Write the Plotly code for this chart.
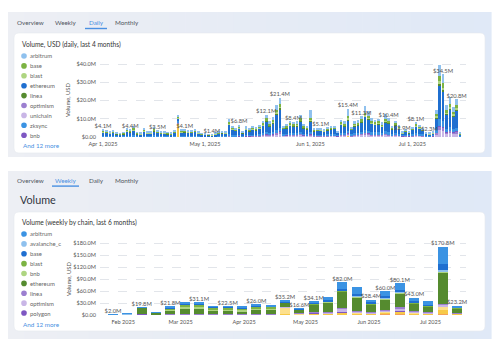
import plotly.graph_objects as go
import numpy as np
import pandas as pd

W, H = 500, 347
FONT = "Lato"
DAY_MS = 86400000

def px(x):
    return x / W

def py(y):
    return 1 - y / H

# ---------------- DAILY (USD millions), 2025-04-01 .. 2025-07-15 ----------------
daily_dates = pd.date_range("2025-04-01", "2025-07-15", freq="D")

daily_arbitrum = [0.6,0.5,0.4,0.5,0.3,0.3,0.4,0.8,0.7,1.0,0.4,0.3,0.7,0.4,0.5,0.8,0.5,0.4,0.5,0.4,0.3,0.5,1.2,0.6,0.6,0.5,0.5,0.6,0.4,0.3,
                  0.3,0.2,0.2,0.4,0.4,0.5,0.4,1.5,0.9,0.8,1.0,0.5,0.9,0.7,0.9,0.8,1.0,1.4,1.8,1.3,1.6,2.6,3.2,0.9,1.1,1.3,1.3,1.3,1.8,1.1,0.9,
                  4.5,0.7,0.8,0.8,0.6,0.8,0.9,0.9,0.5,1.4,1.3,4.0,0.8,1.3,1.4,1.7,3.5,2.5,1.5,1.4,1.5,1.2,2.5,1.6,0.9,1.4,1.0,0.5,0.6,0.5,
                  0.8,1.2,1.0,0.8,0.4,0.4,0.5,2.5,6.0,5.0,3.0,4.0,3.0,3.5,0.4]
daily_base = [0.5,0.4,0.3,0.4,0.3,0.2,0.3,0.8,0.6,0.9,0.3,0.3,0.5,0.3,0.4,0.8,0.4,0.3,0.4,0.3,0.3,0.4,0.5,0.5,0.5,0.4,0.4,0.5,0.3,0.2,
              0.2,0.2,0.1,0.3,0.3,0.3,0.3,0.8,0.6,0.5,0.7,0.3,0.5,0.4,0.6,0.5,0.6,0.8,1.0,0.7,0.9,1.4,1.6,0.5,0.6,0.7,0.7,0.7,1.0,0.6,0.5,
              0.9,0.4,0.4,0.4,0.3,0.4,0.5,0.5,0.3,0.8,0.7,1.2,0.5,0.7,0.8,0.9,1.3,1.1,0.8,0.8,0.8,0.6,1.0,0.8,0.5,0.7,0.5,0.2,0.3,0.2,
              0.4,0.6,0.5,0.4,0.2,0.2,0.3,1.2,3.0,2.5,1.3,1.6,1.2,1.5,0.2]
daily_blast = [0.3,0.2,0.2,0.2,0.1,0.1,0.2,0.4,0.3,0.5,0.2,0.1,0.3,0.2,0.2,0.4,0.2,0.2,0.2,0.2,0.1,0.2,0.3,0.2,0.2,0.2,0.2,0.2,0.2,0.1,
               0.1,0.1,0.1,0.1,0.1,0.2,0.2,0.4,0.3,0.2,0.3,0.2,0.3,0.2,0.3,0.2,0.3,0.4,0.5,0.3,0.4,0.6,0.7,0.2,0.3,0.3,0.3,0.3,0.4,0.3,0.2,
               0.4,0.2,0.2,0.2,0.2,0.2,0.2,0.2,0.1,0.3,0.3,0.5,0.2,0.3,0.3,0.4,0.5,0.4,0.3,0.3,0.3,0.3,0.4,0.3,0.2,0.3,0.2,0.1,0.1,0.1,
               0.2,0.3,0.2,0.2,0.1,0.1,0.1,0.5,1.2,1.0,0.5,0.6,0.5,0.6,0.1]
daily_ethereum = [1.9,1.7,1.4,1.6,1.0,0.8,1.0,2.0,2.0,2.4,1.0,1.0,2.2,1.4,1.4,2.3,1.6,1.2,1.4,1.0,0.9,1.6,1.5,1.9,2.0,1.8,1.6,2.1,1.4,0.8,
                  0.6,0.5,0.5,1.0,1.3,1.5,1.4,5.1,2.9,2.3,3.3,1.4,2.7,2.1,2.7,2.5,2.9,4.0,5.6,3.8,4.9,8.3,10.1,2.8,3.0,3.9,3.6,3.7,5.4,3.0,2.6,
                  5.8,1.9,2.1,2.2,1.9,2.4,2.6,2.8,1.3,4.2,3.8,5.7,2.4,3.8,4.0,5.1,7.0,6.1,4.7,4.2,4.5,3.6,5.1,4.8,2.6,3.9,2.9,1.1,1.8,1.2,
                  2.5,3.7,3.0,2.0,1.0,0.8,1.1,6.4,18.1,16.3,7.7,9.7,7.2,9.4,0.8]
daily_linea = [0.1,0.1,0.1,0.1,0.1,0.1,0.1,0.2,0.1,0.2,0.1,0.1,0.1,0.1,0.1,0.2,0.1,0.1,0.1,0.1,0.1,0.1,0.2,0.1,0.1,0.1,0.1,0.1,0.1,0.1,
               0.1,0.1,0.1,0.1,0.1,0.1,0.1,0.3,0.2,0.2,0.2,0.1,0.2,0.1,0.2,0.2,0.2,0.3,0.4,0.3,0.3,0.5,0.6,0.2,0.2,0.3,0.3,0.3,0.4,0.2,0.2,
               0.4,0.1,0.2,0.2,0.1,0.2,0.2,0.2,0.1,0.3,0.3,0.5,0.2,0.3,0.3,0.3,0.5,0.4,0.3,0.3,0.3,0.2,0.4,0.3,0.2,0.3,0.2,0.1,0.1,0.1,
               0.2,0.2,0.2,0.2,0.1,0.1,0.1,0.5,1.5,1.2,0.6,0.7,0.5,0.6,0.1]
daily_optimism = [0.1,0.1,0.1,0.1,0.1,0.1,0.1,0.1,0.1,0.2,0.1,0.1,0.1,0.1,0.1,0.2,0.1,0.1,0.1,0.1,0.1,0.1,0.2,0.1,0.1,0.1,0.1,0.1,0.1,0.1,
                  0.1,0.1,0.1,0.1,0.1,0.1,0.1,0.3,0.2,0.2,0.2,0.1,0.2,0.2,0.2,0.2,0.3,0.4,0.5,0.4,0.5,0.8,1.0,0.3,0.3,0.4,0.4,0.4,0.5,0.3,0.3,
                  0.5,0.2,0.2,0.2,0.2,0.3,0.3,0.3,0.2,0.5,0.4,0.6,0.3,0.4,0.5,0.6,0.8,0.7,0.5,0.5,0.5,0.4,0.6,0.5,0.3,0.5,0.3,0.2,0.2,0.2,
                  0.3,0.4,0.3,0.3,0.1,0.1,0.2,0.8,2.0,1.8,0.9,1.1,0.9,1.0,0.1]
daily_unichain = [0.1,0.1,0.1,0.1,0.1,0.1,0.1,0.1,0.1,0.1,0.1,0.1,0.1,0.1,0.1,0.1,0.1,0.1,0.1,0.1,0.1,0.1,0.2,0.1,0.1,0.1,0.1,0.1,0.1,0.1,
                  0.1,0.1,0.1,0.1,0.1,0.1,0.1,0.3,0.2,0.2,0.3,0.2,0.3,0.3,0.4,0.4,0.5,0.7,1.0,0.8,1.0,1.5,2.0,0.6,0.7,0.9,0.9,0.9,1.2,0.7,0.6,
                  1.0,0.5,0.5,0.5,0.4,0.5,0.6,0.6,0.3,0.9,0.8,1.2,0.5,0.8,0.9,1.1,1.5,1.3,1.0,0.9,1.0,0.8,1.2,1.0,0.6,0.9,0.6,0.3,0.4,0.3,
                  0.5,0.8,0.6,0.5,0.3,0.3,0.3,1.5,4.0,3.5,1.8,2.2,1.7,2.1,0.2]
daily_zksync = [0.4,0.4,0.3,0.3,0.3,0.2,0.3,0.5,0.4,0.6,0.3,0.2,0.5,0.3,0.3,0.5,0.4,0.3,0.3,0.3,0.2,0.3,0.8,0.4,0.4,0.4,0.3,0.4,0.3,0.2,
                0.2,0.2,0.1,0.2,0.3,0.3,0.3,1.0,0.6,0.5,0.7,0.3,0.6,0.5,0.6,0.5,0.7,0.9,1.2,0.8,1.1,1.7,2.1,0.6,0.7,0.9,0.8,0.9,1.2,0.7,0.6,
                1.2,0.5,0.5,0.5,0.4,0.5,0.6,0.6,0.3,0.9,0.8,1.3,0.6,0.9,0.9,1.1,1.6,1.4,1.0,1.0,1.0,0.8,1.2,1.0,0.6,0.9,0.7,0.3,0.4,0.3,
                0.5,0.8,0.6,0.5,0.2,0.2,0.3,1.5,3.5,3.0,1.7,2.0,1.6,2.0,0.2]
daily_bnb = [0.1,0.1,0.1,0.1,0.1,0.1,0.1,0.1,0.1,0.1,0.1,0.1,0.1,0.1,0.1,0.1,0.1,0.1,0.1,0.1,0.1,0.1,0.1,0.1,0.1,0.1,0.1,0.1,0.1,0.1,
             0.1,0.1,0.1,0.1,0.1,0.1,0.1,0.1,0.1,0.1,0.1,0.1,0.1,0.1,0.1,0.1,0.1,0.1,0.1,0.1,0.1,0.1,0.1,0.1,0.1,0.1,0.1,0.1,0.1,0.1,0.1,
             0.1,0.1,0.1,0.1,0.1,0.1,0.1,0.1,0.1,0.1,0.1,0.1,0.1,0.1,0.1,0.1,0.1,0.1,0.1,0.1,0.1,0.1,0.1,0.1,0.1,0.1,0.1,0.1,0.1,0.1,
             0.1,0.1,0.1,0.1,0.1,0.1,0.1,0.1,0.2,0.2,0.1,0.1,0.1,0.1,0.1]
daily_other = [0,0,0,0,0,0,0,0,0,0,0,0,0,0,0,0,0,0,0,0,0,0,7.3,0,0,0,0,0,0,0,
               0,0,0,0,0,0,0,0,0,0,0,0,0,0,0,0,0,0,0,0,0,0,0,0,0,0,0,0,0,0,0,
               0,0,0,0,0,0,0,0,0,0,0,0.3,0,0,0,0,0,0,0,0,0,0,0,0,0,0,0,0,0,0,
               0,0,0,0,0,0,0,0,0,0,0,0,0,0,0]

daily_label_dates = ["2025-04-01","2025-04-09","2025-04-17","2025-04-25","2025-05-03","2025-05-11",
                     "2025-05-19","2025-05-23","2025-05-27","2025-06-04","2025-06-12","2025-06-16",
                     "2025-06-24","2025-06-28","2025-07-02","2025-07-06","2025-07-10","2025-07-14"]
daily_label_text = ["$4.1M","$4.4M","$3.5M","$4.1M","$1.4M","$6.8M","$12.1M","$21.4M","$8.4M","$5.1M",
                    "$15.4M","$11.3M","$10.4M","$2.9M","$8.1M","$2.3M","$34.5M","$20.8M"]

daily_ticks = ["2025-04-01","2025-05-01","2025-06-01","2025-07-01"]
daily_tick_text = ["Apr 1, 2025","May 1, 2025","Jun 1, 2025","Jul 1, 2025"]
daily_yticks = [0, 10, 20, 30, 40]
daily_ytick_text = ["$0.00","$10.0M","$20.0M","$30.0M","$40.0M"]

# ---------------- WEEKLY (USD millions), weeks starting 2025-01-27 .. 2025-07-14 ----------------
weekly_dates = pd.date_range("2025-01-27", "2025-07-14", freq="7D")

weekly_arbitrum    = [0.3,0.6,0.3,1.2,2.5,4.0,3.0,2.0,2.2,2.0,2.5,2.5,2.5,1.5,4.0,7.0,16.0,17.0,7.0,13.0,17.0,9.0,9.0,44.0,3.5]
weekly_avalanche_c = [0.2,0.3,0.2,0.5,0.5,0.6,0.6,0.5,0.5,0.5,0.6,0.5,0.5,0.3,0.5,0.5,1.0,1.0,0.5,0.8,1.0,0.5,0.5,2.0,0.5]
weekly_base        = [0.1,0.2,0.1,0.3,2.5,3.0,2.0,1.5,2.0,1.8,2.0,1.8,0.8,0.6,2.0,2.5,5.0,5.0,3.0,5.0,6.0,3.0,3.0,15.0,1.5]
weekly_blast       = [0.6,1.0,0.4,0.3,3.5,5.0,5.5,4.0,4.0,3.8,4.5,4.0,0.5,0.5,1.0,1.0,1.0,1.0,0.8,1.0,1.0,0.8,0.5,1.5,0.3]
weekly_bnb         = [0.5,0.8,0.3,0.2,1.5,4.0,5.0,3.0,3.0,3.0,3.5,3.5,0.5,0.5,1.0,1.0,1.0,1.0,0.5,1.0,1.0,0.5,0.5,1.0,0.3]
weekly_ethereum    = [0.2,0.5,16.8,4.0,9.4,14.0,13.0,9.0,9.0,8.0,11.0,10.5,10.0,8.5,19.0,24.0,39.5,33.0,20.0,26.0,35.0,18.2,14.0,79.0,12.5]
weekly_linea       = [0.0,0.0,0.0,0.0,0.1,0.2,0.2,0.2,0.2,0.2,0.2,0.2,0.3,0.2,0.6,1.0,3.0,1.5,1.0,1.5,2.5,1.5,1.0,2.5,0.5]
weekly_optimism    = [0.0,0.0,0.0,0.0,0.1,0.2,0.2,0.2,0.2,0.2,0.2,0.2,0.4,0.3,1.0,3.0,8.0,3.5,1.5,3.5,6.0,3.5,2.0,4.0,0.5]
weekly_polygon     = [0.05,0.05,0.1,0.1,0.2,0.2,0.2,0.2,0.2,0.2,0.2,0.2,0.2,0.2,0.3,0.5,0.8,0.5,0.4,0.5,0.8,0.5,0.3,0.8,0.2]
weekly_other_yellow = [0.0,0.0,0.6,0.3,0.5,0.8,0.4,0.5,0.4,0.4,0.4,0.6,1.5,1.5,3.0,2.5,5.0,4.0,2.5,5.0,7.0,4.0,3.0,10.0,2.5]
weekly_other_light  = [0.0,0.0,0.0,0.0,0.0,0.0,0.0,0.0,0.0,0.0,0.0,0.0,17.5,2.0,1.0,0.5,1.0,1.0,0.5,1.0,1.5,0.8,0.8,9.0,0.5]
weekly_other_orange = [0.05,0.05,1.0,0.6,1.0,1.0,1.0,0.9,0.8,0.9,1.0,0.9,0.5,0.5,0.7,0.5,0.7,0.5,0.7,1.7,1.3,0.7,0.4,2.0,0.4]

weekly_label_dates = ["2025-01-27","2025-02-10","2025-02-24","2025-03-10","2025-03-24","2025-04-07",
                      "2025-04-21","2025-04-28","2025-05-05","2025-05-19","2025-06-02","2025-06-09",
                      "2025-06-16","2025-06-23","2025-07-07","2025-07-14"]
weekly_label_text = ["$2.0M","$19.8M","$21.8M","$31.1M","$22.5M","$26.0M","$35.2M","$16.6M","$34.1M",
                     "$82.0M","$38.4M","$60.0M","$80.1M","$43.0M","$170.8M","$23.2M"]

weekly_ticks = ["2025-02-01","2025-03-01","2025-04-01","2025-05-01","2025-06-01","2025-07-01"]
weekly_tick_text = ["Feb 2025","Mar 2025","Apr 2025","May 2025","Jun 2025","Jul 2025"]
weekly_yticks = [0, 30, 60, 90, 120, 150, 180]
weekly_ytick_text = ["$0.00","$30.0M","$60.0M","$90.0M","$120.0M","$150.0M","$180.0M"]

# ---------------- series definitions (stack order bottom -> top) ----------------
daily_series = [
    ("other", daily_other, "#f7c948"),
    ("unichain", daily_unichain, "#c9b6e6"),
    ("optimism", daily_optimism, "#9c7fd0"),
    ("bnb", daily_bnb, "#7e57c2"),
    ("zksync", daily_zksync, "#3b93e3"),
    ("ethereum", daily_ethereum, "#1f6fd0"),
    ("linea", daily_linea, "#558b2f"),
    ("blast", daily_blast, "#aed581"),
    ("base", daily_base, "#7cb342"),
    ("arbitrum", daily_arbitrum, "#8fc1ee"),
]
daily_legend = [("arbitrum", "#8fc1ee"), ("base", "#7cb342"), ("blast", "#aed581"),
                ("ethereum", "#1f6fd0"), ("linea", "#558b2f"), ("optimism", "#9c7fd0"),
                ("unichain", "#c9b6e6"), ("zksync", "#3b93e3"), ("bnb", "#7e57c2")]

weekly_series = [
    ("other_orange", weekly_other_orange, "#f4a259"),
    ("other_yellow", weekly_other_yellow, "#f7c948"),
    ("other_light", weekly_other_light, "#fde08d"),
    ("polygon", weekly_polygon, "#7e57c2"),
    ("optimism", weekly_optimism, "#c9b6e6"),
    ("linea", weekly_linea, "#9c7fd0"),
    ("ethereum", weekly_ethereum, "#558b2f"),
    ("bnb", weekly_bnb, "#aed581"),
    ("blast", weekly_blast, "#7cb342"),
    ("avalanche_c", weekly_avalanche_c, "#8fc1ee"),
    ("base", weekly_base, "#1f6fd0"),
    ("arbitrum", weekly_arbitrum, "#3b93e3"),
]
weekly_legend = [("arbitrum", "#3b93e3"), ("avalanche_c", "#8fc1ee"), ("base", "#1f6fd0"),
                 ("blast", "#7cb342"), ("bnb", "#aed581"), ("ethereum", "#558b2f"),
                 ("linea", "#9c7fd0"), ("optimism", "#c9b6e6"), ("polygon", "#7e57c2")]

fig = go.Figure()

for name, vals, color in daily_series:
    fig.add_trace(go.Bar(x=daily_dates, y=np.array(vals) * 1e6, name=name, marker_color=color,
                         marker_line_width=0, width=0.76 * DAY_MS, showlegend=False,
                         xaxis="x", yaxis="y", hoverinfo="skip"))
daily_total = pd.Series(np.sum([np.array(v) for _, v, _ in daily_series], axis=0), index=daily_dates)
fig.add_trace(go.Scatter(x=daily_label_dates, y=daily_total.loc[pd.to_datetime(daily_label_dates)].values * 1e6,
                         mode="text", text=daily_label_text, textposition="top center",
                         textfont=dict(family=FONT, size=5.8, color="#555"), showlegend=False,
                         cliponaxis=False, xaxis="x", yaxis="y", hoverinfo="skip"))

for name, vals, color in weekly_series:
    fig.add_trace(go.Bar(x=weekly_dates, y=np.array(vals) * 1e6, name=name, marker_color=color,
                         marker_line_width=0, width=4.9 * DAY_MS, showlegend=False,
                         xaxis="x2", yaxis="y2", hoverinfo="skip"))
weekly_total = pd.Series(np.sum([np.array(v) for _, v, _ in weekly_series], axis=0), index=weekly_dates)
fig.add_trace(go.Scatter(x=weekly_label_dates, y=weekly_total.loc[pd.to_datetime(weekly_label_dates)].values * 1e6,
                         mode="text", text=weekly_label_text, textposition="top center",
                         textfont=dict(family=FONT, size=5.8, color="#555"), showlegend=False,
                         cliponaxis=False, xaxis="x2", yaxis="y2", hoverinfo="skip"))

tickfont = dict(family=FONT, size=5.6, color="#555")
grid = dict(showgrid=True, gridcolor="#e2e5ea", griddash="dash", gridwidth=1, zeroline=False)

fig.update_layout(
    width=W, height=H, autosize=False,
    margin=dict(l=0, r=0, t=0, b=0, pad=0, autoexpand=False),
    paper_bgcolor="#ffffff", plot_bgcolor="rgba(0,0,0,0)",
    barmode="stack", bargap=0,
    font=dict(family=FONT, color="#444"),
    showlegend=False,
    xaxis=dict(domain=[px(100), px(466)], anchor="y", type="date", automargin=False,
               range=["2025-03-31 02:49", "2025-07-16 18:13"],
               tickvals=daily_ticks, ticktext=daily_tick_text, tickfont=tickfont, ticklabelstandoff=2,
               showgrid=False, zeroline=False, ticks="", showline=False),
    yaxis=dict(domain=[py(137), py(60)], anchor="x", range=[0, 42.2e6], automargin=False,
               tickvals=[v * 1e6 for v in daily_yticks], ticktext=daily_ytick_text,
               tickfont=tickfont, ticks="", ticklabelstandoff=3, **grid),
    xaxis2=dict(domain=[px(100), px(466)], anchor="y2", type="date", automargin=False,
                range=["2025-01-20 15:36", "2025-07-18 08:38"],
                tickvals=weekly_ticks, ticktext=weekly_tick_text, tickfont=tickfont, ticklabelstandoff=2,
                showgrid=False, zeroline=False, ticks="", showline=False),
    yaxis2=dict(domain=[py(315), py(239)], anchor="x2", range=[0, 190e6], automargin=False,
                tickvals=[v * 1e6 for v in weekly_yticks], ticktext=weekly_ytick_text,
                tickfont=tickfont, ticks="", ticklabelstandoff=3, **grid),
)

# ---------------- page chrome ----------------
shapes = []

def rect(x0, y0, x1, y1, fill, line=None, r=0):
    if r == 0:
        shapes.append(dict(type="rect", xref="paper", yref="paper", x0=px(x0), x1=px(x1),
                           y0=py(y1), y1=py(y0), fillcolor=fill, line=dict(width=0), layer="below"))
    else:
        rx, ry = r / W, r / H
        X0, X1, Y0, Y1 = px(x0), px(x1), py(y1), py(y0)
        path = (f"M {X0+rx},{Y1} L {X1-rx},{Y1} Q {X1},{Y1} {X1},{Y1-ry} L {X1},{Y0+ry} "
                f"Q {X1},{Y0} {X1-rx},{Y0} L {X0+rx},{Y0} Q {X0},{Y0} {X0},{Y0+ry} "
                f"L {X0},{Y1-ry} Q {X0},{Y1} {X0+rx},{Y1} Z")
        shapes.append(dict(type="path", xref="paper", yref="paper", path=path, fillcolor=fill,
                           line=dict(width=0.6 if line else 0, color=line or fill), layer="below"))

def panel(y0, y1):
    # soft left-to-right tint (grey -> pale blue), drawn as narrow strips
    c0 = np.array([237, 239, 244])
    c1 = np.array([224, 233, 247])
    n = 30
    xs = np.linspace(8, 491, n + 1)
    for i in range(n):
        t = i / (n - 1)
        c = (c0 + (c1 - c0) * t).astype(int)
        rect(xs[i], y0, xs[i + 1] + 0.6, y1, f"rgb({c[0]},{c[1]},{c[2]})")

panel(12, 157)
panel(171, 339)
# cards
rect(14, 33, 485, 153, "#ffffff", line="#e6e9ef", r=5)
rect(14, 212, 485, 331, "#ffffff", line="#e6e9ef", r=5)
# tab underlines
rect(85, 27.8, 107, 29.2, "#4a90e2")
rect(52, 185.4, 79, 186.8, "#4a90e2")

annotations = []

def text(x, y, s, size=6.5, color="#444", xanchor="left", **kw):
    annotations.append(dict(x=px(x), y=py(y), xref="paper", yref="paper", text=s, showarrow=False,
                            xanchor=xanchor, yanchor="middle", borderpad=0,
                            font=dict(family=FONT, size=size, color=color), **kw))

# tabs
for ty, active in ((22.7, "Daily"), (180, "Weekly")):
    for label, cx in (("Overview", 30), ("Weekly", 65.5), ("Daily", 96), ("Monthly", 126.5)):
        text(cx, ty, label, size=6.3, color="#4a90e2" if label == active else "#50555e", xanchor="center")

text(18.5, 199.5, "Volume", size=10.8, color="#2f3440")
text(20.5, 44, "Volume, USD (daily, last 4 months)", size=6.6, color="#333")
text(20.5, 222, "Volume (weekly by chain, last 6 months)", size=6.6, color="#333")

# y axis titles
text(68, 100, "Volume, USD", size=5.8, color="#555", xanchor="center", textangle=-90)
text(68, 279, "Volume, USD", size=5.8, color="#555", xanchor="center", textangle=-90)

# legends
def legend(items, y0, step, more_y):
    for i, (name, color) in enumerate(items):
        yy = y0 + i * step
        shapes.append(dict(type="circle", xref="paper", yref="paper",
                           x0=px(21.2), x1=px(26.8), y0=py(yy + 2.8), y1=py(yy - 2.8),
                           fillcolor=color, line=dict(width=0), layer="above"))
        text(28.8, yy, name, size=5.9, color="#666")
    text(22, more_y, "And 12 more", size=6.3, color="#4a90e2")

legend(daily_legend, 56, 9.9, 145.7)
legend(weekly_legend, 234, 9.88, 324.3)

fig.update_layout(shapes=shapes, annotations=annotations)
fig.write_html("out.html")
